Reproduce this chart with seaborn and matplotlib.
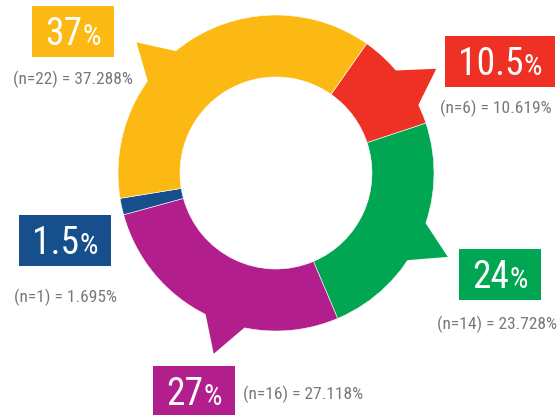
import numpy as np
import matplotlib
matplotlib.use("Agg")
import matplotlib.pyplot as plt
import seaborn as sns
from matplotlib.patches import Polygon, Rectangle

# ---------------- data ----------------
counts = [6, 14, 16, 1, 22]
pct_exact = ["10.619", "23.728", "27.118", "1.695", "37.288"]
pct_short = ["10.5", "24", "27", "1.5", "37"]
colors = ["#EE3124", "#00A651", "#B31E8D", "#164F8C", "#FDB913"]

# ---------------- style ----------------
sns.set_theme(style="white")
plt.rcParams["font.family"] = ["Roboto Condensed", "Roboto", "DejaVu Sans"]

W, H = 557, 415
fig = plt.figure(figsize=(W / 100, H / 100), dpi=100)
ax = fig.add_axes([0, 0, 1, 1])

cx, cy = 276, H - 173
R, ring = 158, 62

wedges, _ = ax.pie(counts, colors=colors, startangle=55, counterclock=False,
                   radius=R, center=(cx, cy),
                   wedgeprops=dict(width=ring, edgecolor="white", linewidth=0.4))
ax.set_xlim(0, W)
ax.set_ylim(0, H)
ax.set_aspect("equal")
ax.axis("off")

# speech-bubble tails, placed as a fraction along each wedge (clockwise)
tail_frac = [0.6, 0.52, 0.43, None, 0.39]
half = np.radians(8.3)
for w, frac, col in zip(wedges, tail_frac, colors):
    if frac is None:
        continue
    a = np.radians(w.theta2 - frac * (w.theta2 - w.theta1))
    rb = R - 3
    pts = [(cx + rb * np.cos(a - half), cy + rb * np.sin(a - half)),
           (cx + 1.21 * R * np.cos(a), cy + 1.21 * R * np.sin(a)),
           (cx + rb * np.cos(a + half), cy + rb * np.sin(a + half))]
    ax.add_patch(Polygon(pts, closed=True, facecolor=col, edgecolor="none", zorder=1))

# label boxes (image coords, y down) and sub-labels
box_centers = [(500, 61.5), (500, 274.5), (194, 391.5), (65, 240.5), (73, 31.5)]
sub_pos = [(552, 108, "right"), (557, 324, "right"), (243, 394, "left"),
           (65.5, 297, "center"), (72.5, 79, "center")]

fig.canvas.draw()
rend = fig.canvas.get_renderer()
big, small = 27, 21
cap = 0.711 * big * 100 / 72
for (bx, by), num, col in zip(box_centers, pct_short, colors):
    t1 = ax.text(0, 0, num, fontsize=big, color="white", va="baseline", ha="left", zorder=4)
    t2 = ax.text(0, 0, "%", fontsize=small, color="white", va="baseline", ha="left", zorder=4)
    w1 = t1.get_window_extent(rend).width
    w2 = t2.get_window_extent(rend).width
    gap = 0
    total = w1 + gap + w2
    x0 = bx - total / 2
    base = H - (by + cap / 2)
    t1.set_position((x0, base))
    t2.set_position((x0 + w1 + gap, base))
    ax.add_patch(Rectangle((x0 - 13, H - (by + 25.5)), total + 26, 51,
                           facecolor=col, edgecolor="none", zorder=3))

for (sx, sy, ha), n, p in zip(sub_pos, counts, pct_exact):
    ax.text(sx, H - sy, f"(n={n}) = {p}%", fontsize=12.5, color="#77787B",
            ha=ha, va="center", zorder=4)

fig.savefig("out.png", dpi=100)
